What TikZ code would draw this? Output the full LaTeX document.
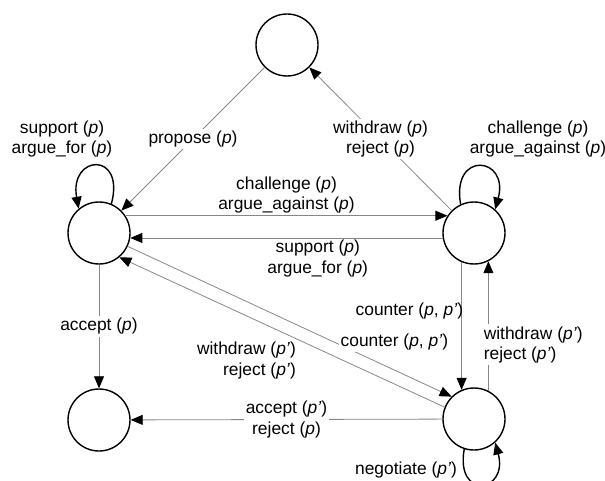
\documentclass[tikz,border=0pt]{standalone}
\usepackage{fontspec}
\setmainfont{Liberation Sans}
\usetikzlibrary{arrows.meta}
\definecolor{edgegray}{RGB}{135,135,135}
\tikzset{state/.style={draw,circle,line width=1.4pt,minimum size=62pt,inner sep=0pt},
  trans/.style={draw=edgegray,line width=0.8pt,-{Triangle[length=12pt,width=10pt,color=black]}},
  loopy/.style={line width=1.4pt,-{Triangle[length=12pt,width=10pt]}},
  lbl/.style={font=\fontsize{17.4}{20.5}\selectfont,align=center,inner sep=2pt},
  onl/.style={lbl,fill=white}}
\newcommand{\pp}{(\textit{p})}
\newcommand{\ppq}{(\textit{p'})}

\begin{document}
\begin{tikzpicture}[x=1pt,y=1pt]
\useasboundingbox (0,0) rectangle (605,-481);
\node[state] (init) at (287,-45) {};
\node[state] (prop) at (99,-233) {};
\node[state] (chal) at (474,-233) {};
\node[state] (acc) at (99,-420) {};
\node[state] (ctr) at (474,-419) {};

\draw[trans] (init) -- node[onl,pos=0.5] {propose \pp} (prop);
\draw[trans] (chal) -- node[onl,pos=0.5] {withdraw \pp\\reject \pp} (init);
\draw[trans] (prop.33) -- node[lbl,midway,above] {challenge \pp\\argue\_against \pp} (chal.147);
\draw[trans] (chal.189) -- node[lbl,pos=0.4,below] {support \pp\\argue\_for \pp} (prop.-9);
\draw[trans] (prop) -- node[onl,midway] {accept \pp} (acc);
\draw[trans] (chal.247) -- node[lbl,pos=0.38,anchor=east,inner sep=0pt,xshift=2pt] {counter (\textit{p}, \textit{p'})} (ctr.113);
\draw[trans] (ctr.63) -- node[onl,pos=0.355,anchor=west,align=left,xshift=-7pt] {withdraw \ppq\\reject \ppq} (chal.297);
\draw[trans] (ctr) -- node[onl,midway] {accept \ppq\\reject \pp} (acc);
\draw[trans] (prop.-25) -- node[onl,pos=0.65,anchor=west,yshift=2pt] {counter (\textit{p}, \textit{p'})} (ctr.135);
\draw[trans] (ctr.158) -- node[lbl,pos=0.45,anchor=north east,align=right] {withdraw \ppq\\reject \ppq} (prop.-50);

\draw[loopy] (prop.67) .. controls +(75:55) and +(100:55) .. (prop.130);
\draw[loopy] (chal.115) .. controls +(100:55) and +(75:55) .. (chal.48);
\draw[loopy] (ctr.-108) .. controls +(-100:52) and +(-75:52) .. (ctr.-48);
\node[lbl] (supl) at (62,-139) {support \pp\\argue\_for \pp};
\node[lbl] (chall) at (538,-139) {challenge \pp\\argue\_against \pp};
\node[lbl] (negl) at (406,-470) {negotiate \ppq};
\end{tikzpicture}
\end{document}
